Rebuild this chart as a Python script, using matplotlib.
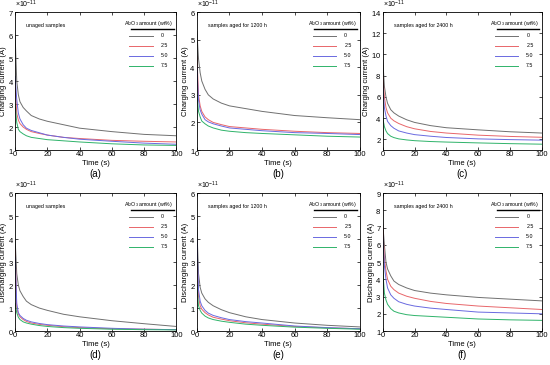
import matplotlib
matplotlib.use("Agg")
import matplotlib.pyplot as plt
from matplotlib.ticker import ScalarFormatter

plt.rcParams["font.family"] = ["Liberation Sans", "DejaVu Sans"]
plt.rcParams["mathtext.fontset"] = "custom"
plt.rcParams["mathtext.rm"] = "Liberation Sans"

# Data (currents in units of 1e-11 A)
time_s = [0, 1, 2, 3, 5, 7, 10, 15, 20, 30, 40, 60, 80, 100]
amounts = ["0", "2.5", "5.0", "7.5"]
colors = ["#707070", "#e8666a", "#6a6ae0", "#2fb36a"]

charge_unaged = [
    [6.0, 4.0, 3.4, 3.1, 2.85, 2.7, 2.5, 2.35, 2.25, 2.1, 1.95, 1.8, 1.68, 1.62],
    [3.8, 2.6, 2.3, 2.15, 2.0, 1.9, 1.8, 1.72, 1.65, 1.55, 1.5, 1.42, 1.38, 1.35],
    [4.2, 3.2, 2.6, 2.35, 2.1, 1.95, 1.85, 1.75, 1.65, 1.55, 1.47, 1.38, 1.3, 1.25],
    [3.0, 2.2, 1.9, 1.8, 1.7, 1.62, 1.55, 1.5, 1.45, 1.4, 1.35, 1.27, 1.22, 1.2],
]
charge_1200 = [
    [5.3, 4.3, 3.8, 3.5, 3.2, 3.0, 2.85, 2.7, 2.6, 2.5, 2.4, 2.25, 2.17, 2.1],
    [4.4, 3.0, 2.6, 2.4, 2.2, 2.1, 2.0, 1.92, 1.85, 1.8, 1.75, 1.68, 1.63, 1.6],
    [4.0, 2.8, 2.45, 2.3, 2.1, 2.02, 1.95, 1.87, 1.8, 1.75, 1.7, 1.63, 1.6, 1.56],
    [3.0, 2.4, 2.2, 2.05, 1.95, 1.87, 1.8, 1.72, 1.68, 1.63, 1.6, 1.55, 1.5, 1.47],
]
charge_2400 = [
    [9.5, 7.0, 6.0, 5.4, 4.8, 4.5, 4.2, 3.85, 3.6, 3.3, 3.1, 2.9, 2.72, 2.6],
    [8.0, 6.0, 5.0, 4.5, 4.0, 3.75, 3.5, 3.2, 3.0, 2.75, 2.6, 2.4, 2.28, 2.2],
    [7.0, 5.0, 4.2, 3.7, 3.3, 3.05, 2.8, 2.6, 2.45, 2.3, 2.18, 2.05, 1.98, 1.93],
    [4.0, 3.2, 2.8, 2.55, 2.3, 2.17, 2.05, 1.95, 1.88, 1.8, 1.75, 1.67, 1.6, 1.55],
]
discharge_unaged = [
    [4.0, 2.5, 2.0, 1.75, 1.5, 1.3, 1.15, 1.0, 0.9, 0.73, 0.62, 0.45, 0.32, 0.2],
    [3.5, 1.0, 0.75, 0.62, 0.5, 0.42, 0.35, 0.29, 0.25, 0.19, 0.15, 0.1, 0.08, 0.06],
    [3.2, 1.2, 0.8, 0.68, 0.55, 0.47, 0.4, 0.33, 0.28, 0.22, 0.18, 0.12, 0.08, 0.06],
    [1.2, 0.8, 0.6, 0.5, 0.4, 0.35, 0.3, 0.24, 0.2, 0.15, 0.12, 0.08, 0.06, 0.05],
]
discharge_1200 = [
    [4.5, 2.5, 1.9, 1.65, 1.4, 1.25, 1.1, 0.93, 0.8, 0.62, 0.5, 0.35, 0.25, 0.18],
    [3.5, 1.5, 1.1, 0.95, 0.8, 0.7, 0.6, 0.52, 0.45, 0.36, 0.3, 0.2, 0.14, 0.1],
    [4.0, 1.8, 1.3, 1.1, 0.9, 0.78, 0.68, 0.58, 0.5, 0.41, 0.35, 0.22, 0.15, 0.1],
    [2.0, 1.1, 0.9, 0.78, 0.65, 0.57, 0.5, 0.43, 0.38, 0.3, 0.25, 0.17, 0.12, 0.08],
]
discharge_2400 = [
    [7.2, 6.0, 5.0, 4.6, 4.2, 3.9, 3.7, 3.5, 3.35, 3.2, 3.1, 2.95, 2.85, 2.75],
    [7.0, 5.2, 4.5, 4.0, 3.6, 3.4, 3.2, 3.02, 2.9, 2.72, 2.6, 2.45, 2.35, 2.25],
    [6.5, 4.8, 4.0, 3.5, 3.1, 2.9, 2.7, 2.55, 2.45, 2.33, 2.25, 2.1, 2.05, 2.0],
    [4.5, 3.2, 2.8, 2.55, 2.3, 2.15, 2.05, 1.95, 1.9, 1.85, 1.8, 1.7, 1.65, 1.62],
]

panels = [
    (charge_unaged, "unaged samples", "Charging current (A)", (1, 7), [1, 2, 3, 4, 5, 6, 7], "(a)"),
    (charge_1200, "samples aged for 1200 h", "Charging current (A)", (1, 6), [1, 2, 3, 4, 5, 6], "(b)"),
    (charge_2400, "samples aged for 2400 h", "Charging current (A)", (1, 14), [2, 4, 6, 8, 10, 12, 14], "(c)"),
    (discharge_unaged, "unaged samples", "Discharging current (A)", (0, 6), [0, 1, 2, 3, 4, 5, 6], "(d)"),
    (discharge_1200, "samples aged for 1200 h", "Discharging current (A)", (0, 6), [0, 1, 2, 3, 4, 5, 6], "(e)"),
    (discharge_2400, "samples aged for 2400 h", "Discharging current (A)", (1, 9), [1, 2, 3, 4, 5, 6, 7, 8, 9], "(f)"),
]

boxes = [
    [0.0275, 0.589, 0.293, 0.378],
    [0.358, 0.589, 0.296, 0.378],
    [0.696, 0.589, 0.289, 0.378],
    [0.0275, 0.093, 0.293, 0.378],
    [0.358, 0.093, 0.296, 0.378],
    [0.696, 0.093, 0.289, 0.378],
]

fig = plt.figure(figsize=(5.5, 3.65), dpi=100)
scale = 1e-11

for (series, note, ylab, ylim, yt, tag), box in zip(panels, boxes):
    ax = fig.add_axes(box)
    for vals, c, lab in zip(series, colors, amounts):
        ax.plot(time_s, [v * scale for v in vals], color=c, lw=0.7, label=lab)
    ax.set_xlim(0, 100)
    ax.set_ylim(ylim[0] * scale, ylim[1] * scale)
    ax.set_yticks([v * scale for v in yt])
    fmt = ScalarFormatter(useMathText=True)
    fmt.set_powerlimits((-11, -11))
    ax.yaxis.set_major_formatter(fmt)
    ax.yaxis.get_offset_text().set_fontsize(5)
    ax.set_xticks([0, 20, 40, 60, 80, 100])
    ax.tick_params(direction="in", length=2, width=0.5, labelsize=5.5, pad=1,
                   top=True, right=True)
    for s in ax.spines.values():
        s.set_linewidth(0.6)
    ax.set_xlabel("Time (s)", fontsize=5.5, labelpad=1)
    ax.set_ylabel(ylab, fontsize=5.5, labelpad=0.5)
    ax.text(0.07, 0.905, note, transform=ax.transAxes, fontsize=3.8, va="center")
    ax.legend(loc="upper right", bbox_to_anchor=(1.0, 0.97), frameon=False,
              title="Al$_2$O$_3$ amount (wt%)", fontsize=3.8, title_fontsize=3.8,
              handlelength=4.5, handletextpad=1.5, labelspacing=0.95,
              borderaxespad=0.2)
    ax.plot([0.72, 0.985], [0.875, 0.875], transform=ax.transAxes, color="k",
            lw=1.0, clip_on=False)
    ax.text(0.5, -0.175, tag, transform=ax.transAxes, fontsize=7, ha="center", va="center")

fig.savefig("out.png", dpi=100)
